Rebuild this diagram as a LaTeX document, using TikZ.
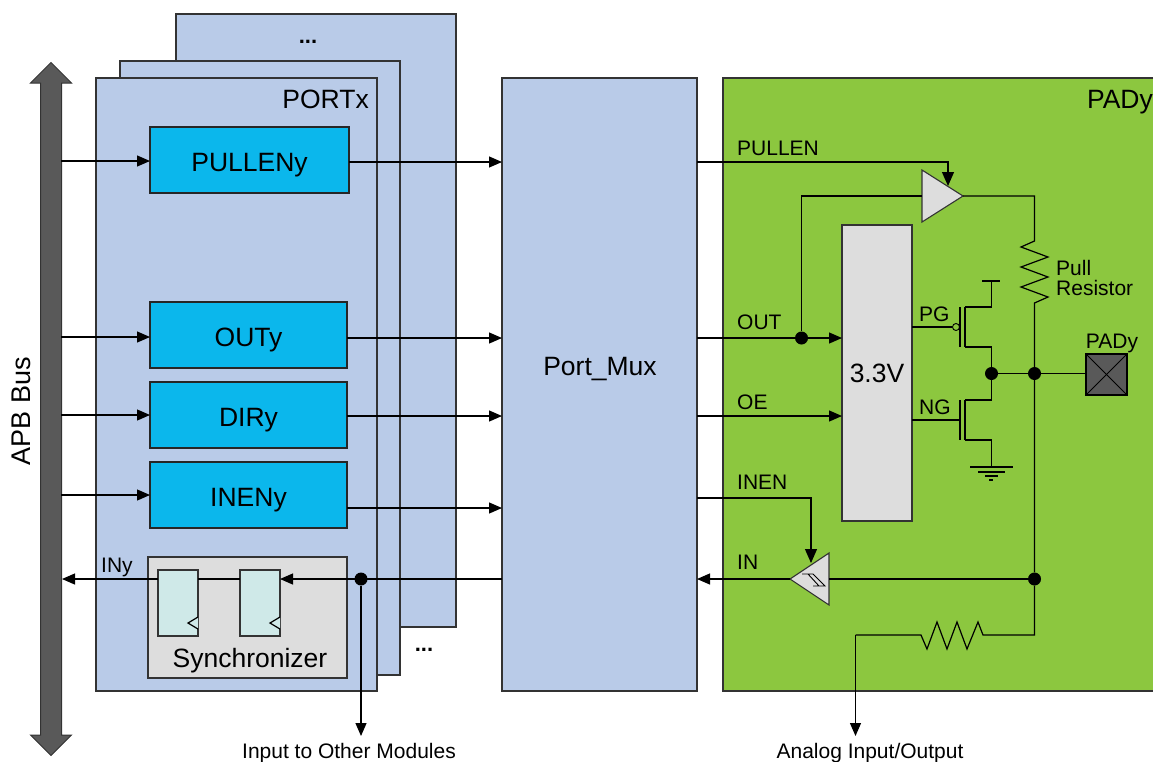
\documentclass[tikz,border=0pt]{standalone}
\usepackage{fontspec}
\setmainfont{Liberation Sans}
\usetikzlibrary{arrows.meta,shapes.geometric,shapes.arrows}
\definecolor{portblue}{HTML}{B9CBE8}
\definecolor{padgreen}{HTML}{8CC73F}
\definecolor{regcyan}{HTML}{0BB7EC}
\definecolor{boxgray}{HTML}{DDDDDD}
\definecolor{ffteal}{HTML}{CFE9E8}
\definecolor{darkgray}{HTML}{595959}
\tikzset{
  port/.style   = {draw=black!80, line width=1.1pt, fill=portblue, anchor=north west, inner sep=0pt, outer sep=0pt},
  reg/.style    = {draw=black!85, line width=1.1pt, fill=regcyan, anchor=north west, inner sep=0pt, outer sep=0pt,
                   font=\fontsize{26.5}{28}\selectfont, text height=22pt, text depth=0pt},
  gray/.style   = {draw=black!80, line width=1.1pt, fill=boxgray, anchor=north west, inner sep=0pt, outer sep=0pt},
  ff/.style     = {draw=black!80, line width=1.1pt, fill=ffteal, anchor=north west, inner sep=0pt, outer sep=0pt,
                   minimum width=40, minimum height=66},
  buffer/.style = {draw=black!80, line width=1.1pt, fill=boxgray, isosceles triangle, isosceles triangle stretches,
                   anchor=apex, inner sep=0pt, outer sep=0pt},
  lbl/.style    = {font=\fontsize{21}{20}\selectfont, inner sep=0pt, text height=15pt, text depth=0pt},
  big/.style    = {font=\fontsize{26.5}{28}\selectfont, inner sep=0pt, text height=19pt, text depth=0pt},
  dot/.style    = {circle, fill=black, inner sep=0pt, minimum size=13},
  wire/.style   = {line width=1.2pt},
  e/.style      = {wire, -{Triangle[length=13,width=11]}},
}
\begin{document}
\begin{tikzpicture}[x=1pt,y=-1pt]
  \useasboundingbox (0,0) rectangle (1154,761);
  % port stack
  \node[port, minimum width=280, minimum height=613] (port3) at (176,14) {};
  \node[port, minimum width=280, minimum height=614] (port2) at (120,61) {};
  \node[port, minimum width=281, minimum height=613] (port1) at (96,78) {};
  \node[big, font=\bfseries\fontsize{22}{24}\selectfont] (dots3) at (308,34) {...};
  \node[big, font=\bfseries\fontsize{22}{24}\selectfont] (dots2) at (424,642) {...};
  \node[big, anchor=east] (portx) at (369,99) {PORTx};
  % bus
  \node[double arrow, draw=black!80, line width=1pt, fill=darkgray, rotate=90, inner sep=0pt,
        minimum height=693, double arrow head extend=10] (bus) at (51,409) {\rule{0pt}{20pt}};
  \node[big, rotate=90, font=\fontsize{27}{28}\selectfont] (buslabel) at (21,411) {APB Bus};
  % registers
  \node[reg, minimum width=199, minimum height=66] (pulleny) at (150,127) {PULLENy\hspace{5pt}};
  \node[reg, minimum width=197, minimum height=66] (outy) at (150,302) {OUTy};
  \node[reg, minimum width=197, minimum height=66] (diry) at (150,382) {DIRy\hspace{7pt}};
  \node[reg, minimum width=197, minimum height=66] (ineny) at (150,462) {INENy};
  % synchronizer
  \node[gray, minimum width=199, minimum height=121] (sync) at (148,557) {};
  \node[big] (synclabel) at (250,658) {Synchronizer};
  \node[ff] (ffa) at (158,570) {};
  \node[ff] (ffb) at (240,570) {};
  \draw[wire, fill=ffteal] (198,617) -- ++(-10,6) -- ++(10,6);
  \draw[wire, fill=ffteal] (280,617) -- ++(-10,6) -- ++(10,6);
  % mux and pad
  \node[port, minimum width=195, minimum height=613] (portmux) at (502,78) {};
  \node[big] (muxlabel) at (600,366) {Port\_Mux};
  \fill[padgreen] (723,78) rectangle (1153,691);
  \draw[line width=1.1pt, draw=black!80] (1153,78) -- (723,78) -- (723,691) -- (1153,691);
  \node[big, anchor=east] (padlabel) at (1153,99) {PADy};
  \node[gray, minimum width=70, minimum height=296] (supply) at (842,225) {};
  \node[big] (supplylabel) at (877,373) {3.3V};
  % signal rows
  \coordinate (pullrow) at (61,161);
  \coordinate (outrow) at (61,337);
  \coordinate (dirrow) at (61,415);
  \coordinate (inrow) at (61,495);
  \coordinate (pullmux) at (502,162);
  \coordinate (outmux) at (502,338);
  \coordinate (dirmux) at (502,416);
  \coordinate (inmux) at (502,508);
  \coordinate (iny) at (62,579);
  \draw[e] (pullrow) -- (pullrow -| pulleny.west);
  \draw[e] (outrow) -- (outrow -| outy.west);
  \draw[e] (dirrow) -- (dirrow -| diry.west);
  \draw[e] (inrow) -- (inrow -| ineny.west);
  \draw[e] (pullmux -| pulleny.east) -- (pullmux);
  \draw[e] (outmux -| outy.east) -- (outmux);
  \draw[e] (dirmux -| diry.east) -- (dirmux);
  \draw[e] (inmux -| ineny.east) -- (inmux);
  % input path
  \node[dot] (tapdot) at (361,579) {};
  \draw[e] (portmux.west |- iny) -- (ffb.east |- iny);
  \draw[wire] (ffb.west |- iny) -- (ffa.east |- iny);
  \draw[e] (ffa.west |- iny) -- (iny);
  \node[lbl, anchor=west] (inylabel) at (101,565) {INy};
  \coordinate (othertip) at (361,736);
  \draw[e] (tapdot) -- (othertip);
  \node[lbl] (otherlabel) at (349,751) {Input to Other Modules};
  % pad side
  \node[buffer, minimum height=41, minimum width=52] (pullbuf) at (963,196) {};
  \node[buffer, shape border rotate=180, minimum height=39, minimum width=52] (inbuf) at (790,579) {};
  \draw[line width=.9pt] (802,574) -- (813,574) -- (825,586) -- (813,586) (808,574) -- (819,586);
  \node[dot] (outdot) at (801.5,338) {};
  \node[dot] (drain) at (991.5,373.5) {};
  \node[dot] (joint) at (1034.5,373.5) {};
  \node[dot] (injoint) at (1034.5,579) {};
  \node[lbl, anchor=west] (pullen) at (737,148) {PULLEN};
  \node[lbl, anchor=west] (outlabel) at (737,321.5) {OUT};
  \node[lbl, anchor=west] (oelabel) at (737,402) {OE};
  \node[lbl, anchor=west] (inenlabel) at (737,482) {INEN};
  \node[lbl, anchor=west] (inlabel) at (737,562) {IN};
  \node[lbl, anchor=west] (pglabel) at (919,314) {PG};
  \node[lbl, anchor=west] (nglabel) at (919,407) {NG};
  \node[font=\fontsize{21}{19.5}\selectfont, inner sep=0pt, anchor=west, align=left] (pullres) at (1056,278) {Pull\\Resistor};
  \coordinate (pullbend) at (948,162);
  \coordinate (pulltip) at (948,186);
  \draw[wire, -{Triangle[length=14,width=12]}] (portmux.east |- pullbend) -- (pullbend) -- (pulltip);
  \draw[wire] (outdot) |- (pullbuf.lower side);
  \draw[e] (portmux.east |- outmux) -- (supply.west |- outmux);
  \draw[e] (portmux.east |- dirmux) -- (supply.west |- dirmux);
  \coordinate (inenbend) at (811,498);
  \coordinate (inentip) at (811,563);
  \draw[wire, -{Triangle[length=14,width=12]}] (portmux.east |- inenbend) -- (inenbend) -- (inentip);
  \draw[e] (inbuf.apex) -- (portmux.east |- inbuf.apex);
  \draw[wire] (inbuf.lower side) -- (injoint);
  % pull resistor and analog branch
  \coordinate (rtop) at (1034.5,241);
  \coordinate (rbot) at (1034.5,303);
  \draw[wire] (pullbuf.apex) -| (rtop) -- (1021,247) -- (1048,257) -- (1021,267) -- (1048,277) -- (1021,287) -- (1048,297) -- (rbot) -- (joint);
  \coordinate (acorner) at (1034.5,635);
  \coordinate (abend) at (855.5,635);
  \coordinate (atip) at (855.5,736);
  \draw[wire] (joint) -- (injoint) -- (acorner) -- (983,635) -- (978,622) -- (967,649) -- (957,622) -- (947,649) -- (937,622) -- (927,649) -- (921,635) -- (abend);
  \draw[e] (abend) -- (atip);
  \node[lbl] (analoglabel) at (870,751) {Analog Input/Output};
  % transistors
  \node[circle, draw=black, line width=.9pt, fill=padgreen, inner sep=0pt, minimum size=7] (bubble) at (956,327) {};
  \draw[wire] (supply.east |- bubble) -- (bubble);
  \coordinate (nggate) at (960,420);
  \draw[wire] (supply.east |- nggate) -- (nggate);
  \draw[wire] (960,307) -- (960,347);
  \draw[wire] (965,307) -- (965,347);
  \draw[wire] (960,400) -- (960,440);
  \draw[wire] (965,400) -- (965,440);
  \draw[wire] (982,281) -- (1000,281);
  \draw[wire] (991.5,281) |- (965,307);
  \draw[wire] (965,347) -| (drain);
  \draw[wire] (drain) |- (965,400);
  \draw[wire] (965,440) -| (991.5,467);
  \draw[wire] (970,467) -- (1013,467);
  \draw[wire] (978,472) -- (1005,472);
  \draw[wire] (985,476) -- (998,476);
  \draw[wire] (989,480) -- (993,480);
  \node[draw=black, line width=1.1pt, fill=darkgray, minimum size=41, inner sep=0pt, outer sep=0pt] (padbox) at (1106.5,374.5) {};
  \draw[line width=.8pt] (padbox.north west) -- (padbox.south east);
  \draw[line width=.8pt] (padbox.north east) -- (padbox.south west);
  \draw[wire] (drain) -- (padbox.west |- drain);
  \node[lbl] (padylabel) at (1112,341) {PADy};
\end{tikzpicture}
\end{document}
